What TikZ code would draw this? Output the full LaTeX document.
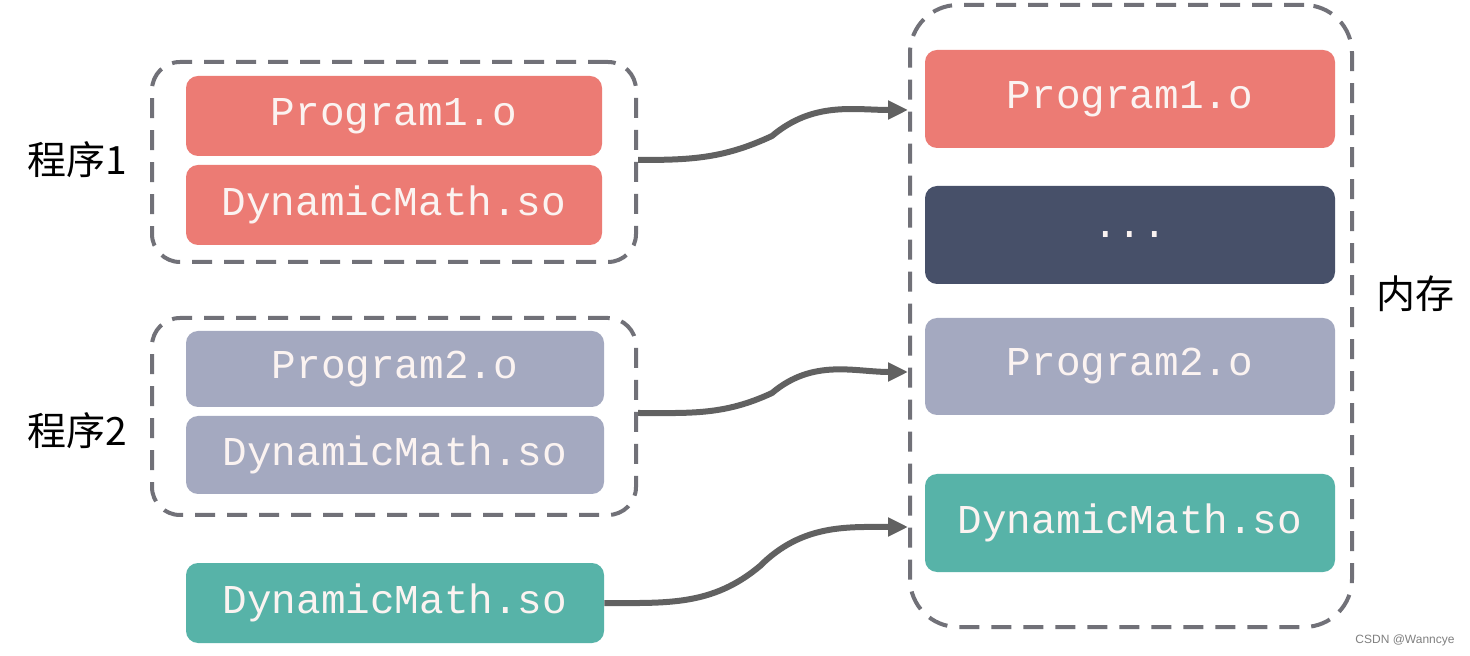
\documentclass[tikz,border=0pt]{standalone}
\usepackage{fontspec}
\setmainfont{Liberation Sans}
\newfontfamily\monof{Liberation Mono}
\newfontfamily\cjk{Noto Sans CJK SC}
\usetikzlibrary{arrows.meta}
\definecolor{cred}{HTML}{EC7B74}
\definecolor{cgray}{HTML}{A4A9C0}
\definecolor{cteal}{HTML}{57B3A8}
\definecolor{cdark}{HTML}{475069}
\definecolor{cdash}{HTML}{717178}
\definecolor{carrow}{HTML}{616161}
\definecolor{ctext}{HTML}{FBF3F1}
\tikzset{
  box/.style={rounded corners=6pt, inner sep=0pt, text=ctext, font=\monof\fontsize{20.5pt}{24pt}\selectfont},
  grp/.style={draw=cdash, line width=2pt, dash pattern=on 10pt off 6pt, rounded corners=14pt, inner sep=0pt},
  lbl/.style={font=\cjk\fontsize{19.5pt}{23pt}\selectfont, text=black, inner sep=0pt},
  conn/.style={draw=carrow, line width=3pt, -{Triangle[length=10pt,width=9pt]}},
}
\begin{document}
\begin{tikzpicture}[x=0.5pt,y=-0.5pt]
\useasboundingbox (0,0) rectangle (1470,656);
\fill[white] (0,0) rectangle (1470,656);
% left groups
\node[grp, minimum width=242pt, minimum height=100pt] (g1) at (394,162) {};
\node[grp, minimum width=242pt, minimum height=98.5pt] (g2) at (394,416.5) {};
\node[box, fill=cred, minimum width=208pt, minimum height=40pt] (p1) at (394,116) {Program1.o};
\node[box, fill=cred, minimum width=208pt, minimum height=40pt] (d1) at (394,205) {DynamicMath.so};
\node[box, fill=cgray, minimum width=209pt, minimum height=38pt] (p2) at (395,369) {Program2.o};
\node[box, fill=cgray, minimum width=209pt, minimum height=39pt] (d2) at (395,455) {DynamicMath.so};
\node[box, fill=cteal, minimum width=209pt, minimum height=40pt] (d3) at (395,603) {DynamicMath.so};
% labels
\node[lbl] (l1) at (77,160) {程序1};
\node[lbl] (l2) at (77,431) {程序2};
\node[lbl] (l3) at (1415,294) {内存};
% memory
\node[grp, rounded corners=24pt, minimum width=221pt, minimum height=311pt] (mem) at (1131,316) {};
\node[box, fill=cred, minimum width=205pt, minimum height=49pt] (r1) at (1130,99) {Program1.o};
\node[box, fill=cdark, minimum width=205pt, minimum height=49pt] (rdots) at (1130,235) {...};
\node[box, fill=cgray, minimum width=205pt, minimum height=48.5pt] (r2) at (1130,366.5) {Program2.o};
\node[box, fill=cteal, minimum width=205pt, minimum height=49pt] (r3) at (1130,523) {DynamicMath.so};
% connector endpoints
\coordinate (s1) at (g1.east |- 0,160);
\coordinate (s2) at (g2.east |- 0,413);
\coordinate (e1) at (mem.west |- 0,110);
\coordinate (e2) at (mem.west |- 0,372);
\coordinate (e3) at (mem.west |- 0,527);
\coordinate (m1) at (772,136);
\coordinate (m2) at (772,393);
\coordinate (m3) at (760,566);
\draw[conn] (s1) to[out=0,in=205] (m1) to[out=40,in=180] (e1);
\draw[conn] (s2) to[out=0,in=205] (m2) to[out=40,in=180] (e2);
\draw[conn] (d3.east) to[out=0,in=220] (m3) to[out=45,in=180] (e3);
\node[font=\fontsize{6pt}{7pt}\selectfont, text=gray, inner sep=0pt] (wm) at (1405,640) {CSDN @Wanncye};
\end{tikzpicture}
\end{document}
